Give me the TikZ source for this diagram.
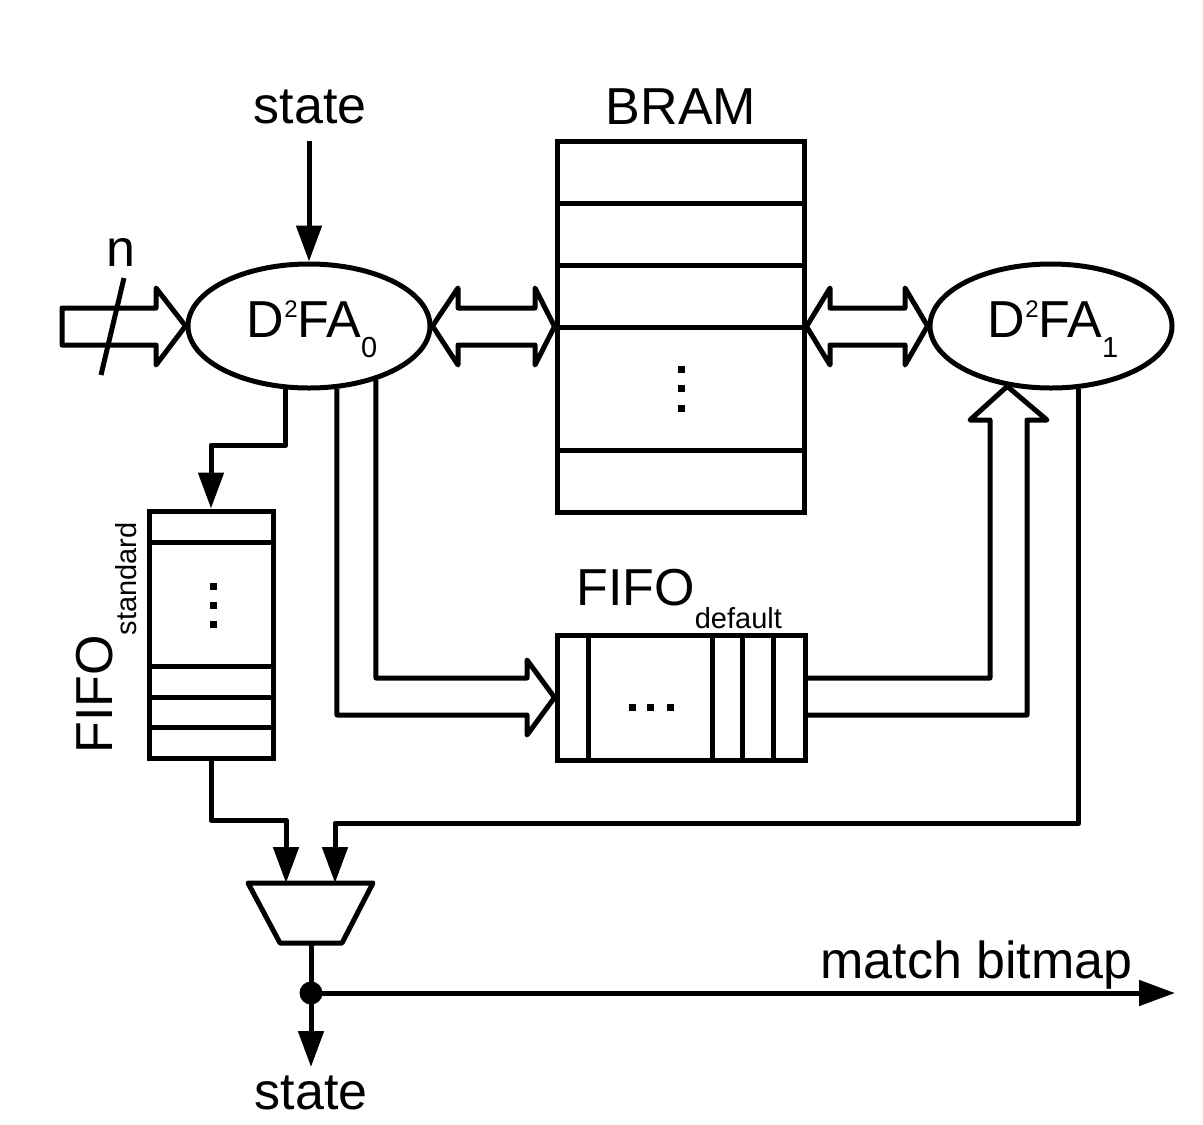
\documentclass[tikz,border=0pt]{standalone}
\usepackage{fontspec}
\setmainfont{Liberation Sans}
\usetikzlibrary{arrows.meta,shapes.geometric}
\begin{document}
\begin{tikzpicture}[x=0.5pt,y=-0.5pt,
  ln/.style={line width=2.5pt, line join=round},
  arr/.style={ln, -{Triangle[length=18pt,width=12.5pt]}},
  box/.style={draw, rectangle, line width=2.5pt, inner sep=0pt},
  ell/.style={draw, ellipse, line width=2.5pt, minimum width=121pt, minimum height=62pt, inner sep=0pt},
  txt/.style={font=\fontsize{26}{30}\selectfont, inner sep=0pt},
  dotsq/.style={fill=black}]
\fill[white] (0,0) rectangle (1203,1124);
\path[use as bounding box] (0,0) rectangle (1203,1124);

% main nodes
\node[ell] (d0) at (309,326) {};
\node[ell] (d1) at (1051,326) {};
\node[box, minimum width=123.5pt, minimum height=185.5pt] (bram) at (680.5,326.5) {};
\node[box, minimum width=62pt, minimum height=123.5pt] (fs) at (211,634.5) {};
\node[box, minimum width=124pt, minimum height=62.5pt] (fd) at (681,697.5) {};

% BRAM rows
\foreach \yy in {203,265,327,450} \draw[ln] (557,\yy) -- (804,\yy);
\foreach \yy in {369,388,408} \fill[dotsq] ({681-3.5},{\yy-3.5}) rectangle ++(7,7);
% FIFO standard rows
\foreach \yy in {542,666,697,727} \draw[ln] (149,\yy) -- (273,\yy);
\foreach \yy in {586,605,624} \fill[dotsq] ({213-3.5},{\yy-3.5}) rectangle ++(7,7);
% FIFO default columns
\foreach \xx in {588,712,742,773} \draw[ln] (\xx,635) -- (\xx,760);
\foreach \xx in {632,650,670} \fill[dotsq] ({\xx-3.5},{707-3.5}) rectangle ++(7,7);

% texts
\node[txt, anchor=base] (tstate) at (310,123) {state};
\node[txt, anchor=base] (tbram) at (681,124) {BRAM};
\node[txt, anchor=base] (tn) at (121,266) {n};
\node[txt, anchor=base] (td0) at (312,337) {D\raisebox{10pt}{\fontsize{12}{12}\selectfont 2}FA\raisebox{-10pt}{\fontsize{14.5}{14.5}\selectfont 0}};
\node[txt, anchor=base] (td1) at (1053,337) {D\raisebox{10pt}{\fontsize{12}{12}\selectfont 2}FA\raisebox{-10pt}{\fontsize{14.5}{14.5}\selectfont 1}};
\node[txt, anchor=base west] (tfd) at (576,605) {FIFO\raisebox{-11.5pt}{\fontsize{14.5}{14.5}\selectfont default}};
\node[txt, anchor=base west, rotate=90] (tfs) at (112,754) {FIFO\raisebox{-12pt}{\fontsize{14.5}{14.5}\selectfont standard}};
\node[txt, anchor=base west] (tmb) at (820,978) {match bitmap};
\node[txt, anchor=base] (tsout) at (311,1109) {state};

% state in
\coordinate (sin) at (309,141);
\draw[arr] (sin) -- (d0.north);

% input fat arrow with bus slash
\draw[ln] (62,308) -- (156,308) -- (156,288) -- (d0.west) -- (156,365) -- (156,345) -- (62,345) -- cycle;
\coordinate (sl1) at (124,278);
\coordinate (sl2) at (101,375);
\draw[ln] (sl1) -- (sl2);

% double arrows
\draw[ln] (d0.east) -- (458,288) -- (458,308) -- (535,308) -- (535,288) -- (bram.west) -- (535,365) -- (535,345) -- (458,345) -- (458,365) -- cycle;
\draw[ln] (bram.east) -- (830,288) -- (830,308) -- (905,308) -- (905,288) -- (d1.west) -- (905,365) -- (905,345) -- (830,345) -- (830,365) -- cycle;

% D2FA0 -> FIFO standard
\draw[arr] (d0.-110) |- (211,445) -- (fs.north);

% D2FA0 -> FIFO default (fat)
\draw[ln] (d0.-39.4) |- (527,678) -- (527,660) -- (fd.west) -- (527,735) -- (527,715) -| (d0.-66.7);

% FIFO default -> D2FA1 (fat)
\draw[ln] ([yshift=9.75pt]fd.east) -| (990,420) -- (970,420) -- (d1.-126.6) -- (1047,420) -- (1027,420) |- ([yshift=-8.75pt]fd.east);

% mux
\draw[ln] (248,883) -- (373,883) -- (342,943) -- (280,943) -- cycle;
\coordinate (muxa) at (286,883);
\coordinate (muxb) at (335,883);
\coordinate (muxo) at (311,943);
\draw[arr] (fs.south) |- (286,820) -- (muxa);
\draw[arr] (d1.-66.7) |- (335,823) -- (muxb);

% output
\coordinate (jn) at (311,993);
\coordinate (sout) at (311,1067);
\coordinate (mbend) at (1175,993);
\draw[ln] (muxo) -- (jn);
\draw[arr] (jn) -- (sout);
\draw[arr] (jn) -- (mbend);
\fill (jn) circle (5.75pt);
\end{tikzpicture}
\end{document}
